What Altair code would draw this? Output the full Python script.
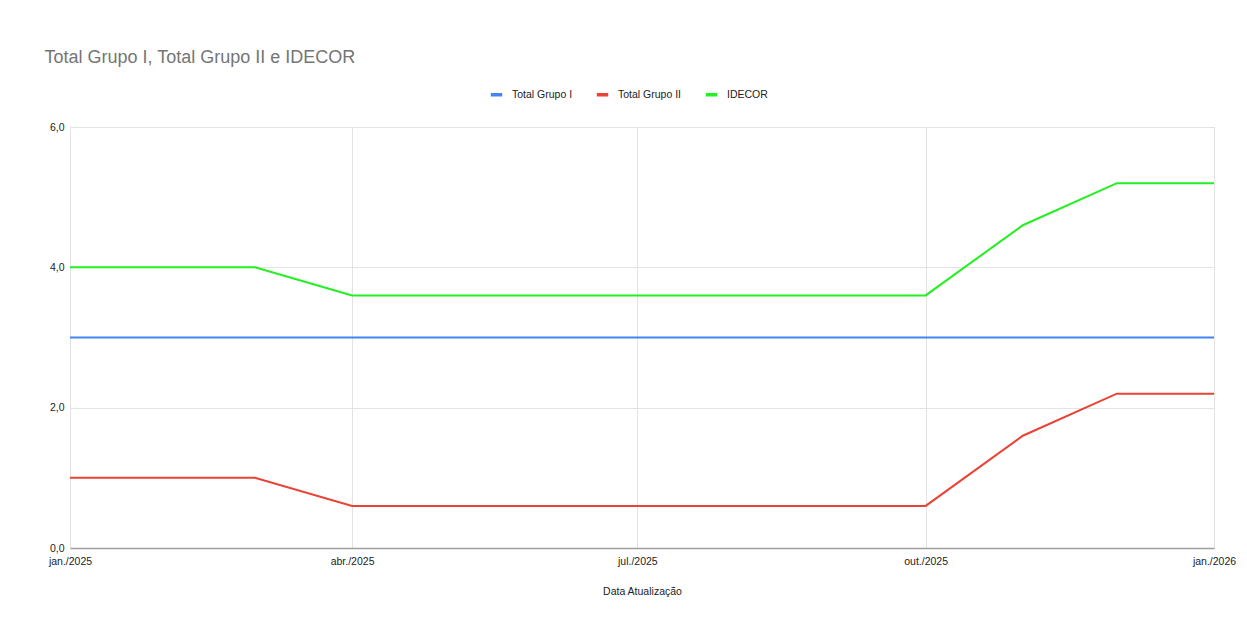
import altair as alt
import pandas as pd

dates = ["2025-01-01", "2025-02-01", "2025-03-01", "2025-04-01", "2025-05-01",
         "2025-06-01", "2025-07-01", "2025-08-01", "2025-09-01", "2025-10-01",
         "2025-11-01", "2025-12-01", "2026-01-01"]
grupo1 = [3.0, 3.0, 3.0, 3.0, 3.0, 3.0, 3.0, 3.0, 3.0, 3.0, 3.0, 3.0, 3.0]
grupo2 = [1.0, 1.0, 1.0, 0.6, 0.6, 0.6, 0.6, 0.6, 0.6, 0.6, 1.6, 2.2, 2.2]
idecor = [4.0, 4.0, 4.0, 3.6, 3.6, 3.6, 3.6, 3.6, 3.6, 3.6, 4.6, 5.2, 5.2]
series = ["Total Grupo I", "Total Grupo II", "IDECOR"]
colors = ["#4285F4", "#EA4335", "#22F022"]
x_ticks = ["2025-01-01", "2025-04-01", "2025-07-01", "2025-10-01", "2026-01-01"]
y_ticks = [0, 2, 4, 6]

rows = []
for name, vals in zip(series, [grupo1, grupo2, idecor]):
    for d, v in zip(dates, vals):
        rows.append({"Data": d, "Série": name, "Valor": v})
df = pd.DataFrame(rows)

month_expr = ("['jan.','fev.','mar.','abr.','mai.','jun.','jul.','ago.','set.','out.','nov.','dez.']"
              "[month(datum.value)] + '/' + year(datum.value)")

chart = alt.Chart(df).mark_line(strokeWidth=2).encode(
    x=alt.X("Data:T",
            scale=alt.Scale(domain=[alt.DateTime(year=2025, month=1, date=1),
                                    alt.DateTime(year=2026, month=1, date=1)], nice=False),
            axis=alt.Axis(title="Data Atualização",
                          values=[alt.DateTime(year=int(t[:4]), month=int(t[5:7]), date=1) for t in x_ticks],
                          labelExpr=month_expr, labelFlush=False, labelOverlap=False,
                          ticks=False, domainColor="#9e9e9e", domainWidth=1.5,
                          gridColor="#e3e3e3", labelPadding=8, titlePadding=20)),
    y=alt.Y("Valor:Q",
            scale=alt.Scale(domain=[0, 6], nice=False),
            axis=alt.Axis(title=None, values=y_ticks, labelExpr="replace(format(datum.value, '.1f'), '.', ',')",
                          ticks=False, domain=False, gridColor="#e3e3e3", labelPadding=6)),
    color=alt.Color("Série:N", scale=alt.Scale(domain=series, range=colors), sort=series,
                    legend=alt.Legend(title=None, orient="none", legendX=419, legendY=-40,
                                      direction="horizontal", symbolType="stroke",
                                      symbolStrokeWidth=3.5, symbolSize=130,
                                      labelFontSize=10.5, labelColor="#222222",
                                      columnPadding=16, labelOffset=8)),
).properties(
    width=1144, height=421,
    title=alt.TitleParams("Total Grupo I, Total Grupo II e IDECOR", anchor="start",
                          fontSize=18, fontWeight="normal", color="#757575",
                          font="Liberation Sans", dx=-4, dy=-16),
    autosize=alt.AutoSizeParams(type="none"),
    padding={"left": 62, "top": 119, "right": 25, "bottom": 60},
).configure_axis(
    labelFont="Liberation Sans", labelFontSize=10.5, labelColor="#222222",
    titleFont="Liberation Sans", titleFontSize=10.5, titleColor="#222222", titleFontWeight="normal",
).configure_legend(labelFont="Liberation Sans").configure_view(stroke="#e3e3e3")

chart.save("out.html", embed_options={"renderer": "svg", "actions": False})
